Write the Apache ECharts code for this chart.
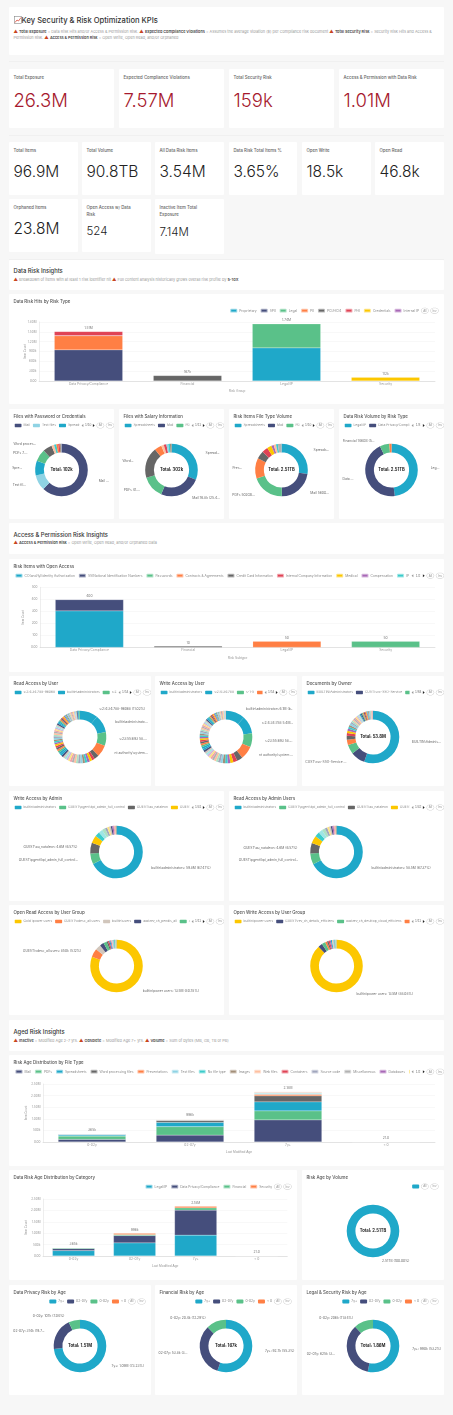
<!DOCTYPE html>
<html lang="en">
<head>
<meta charset="utf-8" />
<title>Key Security & Risk Optimization KPIs</title>
<script src="https://cdn.jsdelivr.net/npm/echarts@6/dist/echarts.min.js"></script>
<style>
  html, body { margin: 0; padding: 0; background: #f7f7f7; }
  body { position: relative; width: 453px; height: 1415px; overflow: hidden; font-family: Inter, "Noto Sans", sans-serif; color: #333; }
  .card { position: absolute; background: #fff; border-radius: 1px; box-sizing: border-box; }
  .rule { position: absolute; left: 9px; width: 435px; height: 1px; background: #f0f0f0; }
  .kt { position: absolute; left: 4.5px; top: 5px; right: 14px; font-size: 4.3px; line-height: 7px; font-weight: 500; color: #666; }
  .kv { position: absolute; left: 4.5px; font-weight: 300; white-space: nowrap; line-height: 1; }
  .red { color: #a6192e; font-size: 18.5px; top: 22px; }
  .big { color: #222; font-size: 15.5px; top: 21.5px; }
  .mid { color: #222; font-size: 11.5px; }
  .sec { position: absolute; left: 4.5px; font-weight: 500; white-space: nowrap; color: #333; }
  .note { position: absolute; left: 4.5px; right: 2px; font-size: 3.85px; line-height: 6.3px; color: #999; }
  .note b { color: #444; font-weight: 600; }
  .tri { color: #c8451f; font-size: 4.4px; }
  svg { vertical-align: -1px; }
</style>
</head>
<body>
<div class="card" style="left:9px;top:7px;width:435px;height:48px">
  <div class="sec" style="top:8.5px;font-size:7.6px;line-height:9px"><svg width="8" height="8" viewBox="0 0 8 8"><rect x=".4" y=".4" width="7.2" height="7.2" fill="#fff" stroke="#888" stroke-width=".6"/><path d="M1 6.5 3 4 4.5 5 7 1.5" fill="none" stroke="#d84a3a" stroke-width=".8"/></svg>Key Security &amp; Risk Optimization KPIs</div>
  <div class="note" style="top:21.5px"><span class="tri">▲</span> <b>Total Exposure</b> = Data Risk Hits and/or Access &amp; Permission Risk. <span class="tri">▲</span> <b>Expected Compliance Violations</b> = Assumes the average violation ($) per Compliance risk document <span class="tri">▲</span> <b>Total Security Risk</b> = Security Risk Hits and Access &amp; Permission Risk. <span class="tri">▲</span> <b>Access &amp; Permission Risk</b> = Open Write, Open Read, and/or Orphaned</div>
</div>
<div class="rule" style="top:61px"></div>
<div class="card" style="left:9px;top:69px;width:105px;height:59px"><div class="kt">Total Exposure</div><div class="kv red">26.3M</div></div>
<div class="card" style="left:119px;top:69px;width:105px;height:59px"><div class="kt">Expected Compliance Violations</div><div class="kv red">7.57M</div></div>
<div class="card" style="left:229px;top:69px;width:105px;height:59px"><div class="kt">Total Security Risk</div><div class="kv red">159k</div></div>
<div class="card" style="left:339px;top:69px;width:105px;height:59px"><div class="kt">Access &amp; Permission with Data Risk</div><div class="kv red">1.01M</div></div>
<div class="rule" style="top:135px"></div>
<div class="card" style="left:9px;top:142px;width:69px;height:53px"><div class="kt">Total Items</div><div class="kv big">96.9M</div></div>
<div class="card" style="left:82px;top:142px;width:69px;height:53px"><div class="kt">Total Volume</div><div class="kv big">90.8TB</div></div>
<div class="card" style="left:155px;top:142px;width:69px;height:53px"><div class="kt">All Data Risk Items</div><div class="kv big">3.54M</div></div>
<div class="card" style="left:229px;top:142px;width:68px;height:53px"><div class="kt">Data Risk Total Items %</div><div class="kv big">3.65%</div></div>
<div class="card" style="left:302px;top:142px;width:69px;height:53px"><div class="kt">Open Write</div><div class="kv big">18.5k</div></div>
<div class="card" style="left:375px;top:142px;width:69px;height:53px"><div class="kt">Open Read</div><div class="kv big">46.8k</div></div>
<div class="card" style="left:9px;top:199px;width:69px;height:53px"><div class="kt">Orphaned Items</div><div class="kv big">23.8M</div></div>
<div class="card" style="left:82px;top:199px;width:69px;height:53px"><div class="kt">Open Access w/ Data Risk</div><div class="kv mid" style="top:27px">524</div></div>
<div class="card" style="left:155px;top:199px;width:69px;height:55px"><div class="kt">Inactive Item Total Exposure</div><div class="kv mid" style="top:28px">7.14M</div></div>
<div class="rule" style="top:259px"></div>

<div class="card" style="left:9px;top:260px;width:435px;height:30px">
  <div class="sec" style="top:7px;font-size:5.8px;line-height:7px">Data Risk Insights</div>
  <div class="note" style="top:16.5px"><span class="tri">▲</span> Breakdown of items with at least 1 risk identifier hit <span class="tri">▲</span> Full content analysis historically grows overall risk profile by <b>5-10X</b></div>
</div>
<div class="card" id="riskType" style="left:9px;top:294px;width:435px;height:110px"></div>
<div class="card" id="password" style="left:9px;top:409px;width:105px;height:110px"></div>
<div class="card" id="salary" style="left:119px;top:409px;width:105px;height:110px"></div>
<div class="card" id="fileVolume" style="left:229px;top:409px;width:105px;height:110px"></div>
<div class="card" id="riskVolume" style="left:339px;top:409px;width:105px;height:110px"></div>

<div class="card" style="left:9px;top:523px;width:435px;height:31px">
  <div class="sec" style="top:7.5px;font-size:5.8px;line-height:7px">Access &amp; Permission Risk Insights</div>
  <div class="note" style="top:17px"><span class="tri">▲</span> <b>Access &amp; Permission Risk</b> = Open Write, Open Read, and/or Orphaned Data</div>
</div>
<div class="card" id="openAccess" style="left:9px;top:559px;width:435px;height:113px"></div>
<div class="card" id="readUser" style="left:9px;top:676px;width:142px;height:110px"></div>
<div class="card" id="writeUser" style="left:155px;top:676px;width:142px;height:110px"></div>
<div class="card" id="owner" style="left:302px;top:676px;width:142px;height:110px"></div>
<div class="card" id="writeAdmin" style="left:9px;top:791px;width:215px;height:110px"></div>
<div class="card" id="readAdmin" style="left:229px;top:791px;width:215px;height:110px"></div>
<div class="card" id="openRead" style="left:9px;top:905px;width:215px;height:110px"></div>
<div class="card" id="openWrite" style="left:229px;top:905px;width:215px;height:110px"></div>

<div class="card" style="left:9px;top:1020px;width:435px;height:31px">
  <div class="sec" style="top:8px;font-size:5.8px;line-height:7px">Aged Risk Insights</div>
  <div class="note" style="top:17.5px"><span class="tri">▲</span> <b>Inactive</b> = Modified Age 2-7 yrs. <span class="tri">▲</span> <b>Obsolete</b> = Modified Age 7+ yrs. <span class="tri">▲</span> <b>Volume</b> = Sum of bytes (MB, GB, TB or PB)</div>
</div>
<div class="card" id="ageFile" style="left:9px;top:1055px;width:435px;height:111px"></div>
<div class="card" id="ageCategory" style="left:9px;top:1170px;width:288px;height:110px"></div>
<div class="card" id="ageVolume" style="left:302px;top:1170px;width:142px;height:110px"></div>
<div class="card" id="agePrivacy" style="left:9px;top:1285px;width:142px;height:110px"></div>
<div class="card" id="ageFinancial" style="left:155px;top:1285px;width:142px;height:110px"></div>
<div class="card" id="ageLegal" style="left:302px;top:1285px;width:142px;height:110px"></div>

<script>
// colours
var palette = ["#1FA8C9","#454E7C","#5AC189","#FF7F44","#666666","#E04355","#FCC700","#A868B7","#3CCCCB","#A38F79","#8FD3E4","#A1A6BD","#ACE1C4","#FEC0A1","#B2B2B2","#EFA1AA","#FDE380","#D3B3DA","#9EE5E5","#D1C6BC"];
var userPalette = ["#1FA8C9","#1FA8C9","#5AC189","#FF7F44","#666666","#E04355","#FCC700","#A868B7","#3CCCCB","#A38F79","#8FD3E4","#A1A6BD","#ACE1C4","#FEC0A1","#B2B2B2","#EFA1AA","#FDE380","#D3B3DA","#9EE5E5","#D1C6BC","#454E7C"];
var fileColors = ["#454E7C","#5AC189","#1FA8C9","#666666","#FF7F44","#8FD3E4","#3CCCCB","#A38F79","#FEC0A1","#E04355","#A1A6BD","#B2B2B2","#A868B7","#FCC700","#EFA1AA"];

// Data Risk Hits by Risk Type
var riskGroups = ["Data Privacy/Compliance","Financial","Legal/IP","Security"];
var riskTypeNames = ["Proprietary","SPII","Legal","PII","PCI/HCI4","PHI","Credentials","Internal IP"];
var riskTypeValues = [
  [null,null,1010000,null],
  [950000,null,null,null],
  [null,null,730000,null],
  [430000,null,null,null],
  [null,167000,null,null],
  [130000,null,null,null],
  [null,null,null,112000],
  [null,null,null,null]
];
var riskTypeTotals = ["1.51M","167k","1.74M","112k"];

// Files with Password or Credentials
var passwordNames = ["Mail","Text files","Spreadsheets","PDFs","Word processing files","Web files","No file type","Presentations","Containers","Images","Source code"];
var passwordValues = [62.1,9.6,9.0,7.5,5.6,1.6,1.4,1.2,0.9,0.7,0.4];
var passwordLabels = ["Mail 63.5k (62.1%)","Text files 9.8k (9.6%)","Spreadsheets 9.2k (9.0%)","PDFs 7.6k (7.5%)","Word processing files 5.7k"];
var passwordColors = ["#454E7C","#8FD3E4","#1FA8C9","#5AC189","#666666","#FEC0A1","#3CCCCB","#FF7F44","#E04355","#A38F79","#A1A6BD"];

// Files with Salary Information
var salaryNames = ["Spreadsheets","Mail","PDFs","Word processing files","Presentations","Web files","Containers","Text files","No file type","Images"];
var salaryValues = [31.0,25.44,13.8,19.0,4.4,1.6,1.6,1.2,1.0,0.96];
var salaryLabels = ["Spreadsheets 93.6k (31%)","Mail 76.8k (25.44%)","PDFs 41.7k (13.8%)","Word processing files 57.4k"];
var salaryColors = ["#1FA8C9","#454E7C","#5AC189","#666666","#FF7F44","#FEC0A1","#E04355","#8FD3E4","#3CCCCB","#A38F79"];

// Risk Items File Type Volume
var fileVolumeNames = ["Spreadsheets","Mail","PDFs","Presentations","Word processing files","Containers","Media","Databases","Web files","No file type","Miscellaneous"];
var fileVolumeValues = [27.5,22.3,20.0,12.5,5.0,3.6,2.8,1.5,1.4,1.2,2.2];
var fileVolumeLabels = ["Spreadsheets 690GB (27.5%)","Mail 560GB (22.3%)","PDFs 502GB (20%)","Presentations 314GB"];
var fileVolumeColors = ["#1FA8C9","#454E7C","#5AC189","#FF7F44","#666666","#E04355","#FCC700","#A868B7","#FEC0A1","#3CCCCB","#B2B2B2"];

// Data Risk Volume by Risk Type
var riskVolumeNames = ["Legal/IP","Data Privacy/Compliance","Financial","Security"];
var riskVolumeValues = [48.0,44.8,5.82,1.38];
var riskVolumeLabels = ["Legal/IP 1.2TB (48%)","Data Privacy/Compliance 1.12TB","Financial 146GB (5.82%)"];

// Risk Items with Open Access
var subtypeNames = ["CO(and/ly)Identity Authorization","SS(National Identification Numbers","Passwords","Contracts & Agreements","Credit Card Information","Internal Company Information","Medical","Compensation","IP Documents"];
var subtypeValues = [
  [303,null,null,null],
  [94,null,null,null],
  [null,null,null,50],
  [null,null,50,null],
  [null,10,null,null],
  [null,null,null,null],
  [3,null,null,null],
  [null,null,null,null],
  [null,null,null,null]
];
var subtypeTotals = ["400","10","50","50"];

// Read Access by User
var readUserNames = ["s:2:4:34:788-96068","builtin\\administrators","s:23:55:693:58.4M","nt authority\\system"];
var readUserValues = [11.02,10.8,8.3,7.2,2.9,1.7,1.6,1.5,1.5,1.4,1.4,1.4,1.3,1.3,1.3,1.3,1.2,1.2,1.2,1.2,1.2,1.2,1.1,1.1,1.1,1.1,1.1,1.1,1.0,1.0,1.0,1.0,1.0,1.0,1.0,0.9,0.9,0.9,0.9,0.9,0.9,0.9,0.8,0.8,0.8,0.8,0.8,0.8,0.8,0.7,0.7,0.7,0.7,0.7,0.7,0.7,0.6,0.6,0.6,0.6,0.6,0.6,0.5,0.5,0.5,0.5];
var readUserLabels = ["s:2:4:34:788-96068 (11.02%)","builtin\\administrators 5.6M","s:23:55:693 58.4M (8.3%)","nt authority\\system 4.9M"];

// Write Access by User
var writeUserNames = ["builtin\\administrators","s:2:4:34:788","s-1-5","nt authority\\system"];
var writeUserValues = [11.4,10.6,8.2,7.9,3.4,2.4,1.8,1.6,1.5,1.5,1.4,1.4,1.3,1.3,1.3,1.2,1.2,1.2,1.2,1.2,1.1,1.1,1.1,1.1,1.1,1.0,1.0,1.0,1.0,1.0,1.0,0.9,0.9,0.9,0.9,0.9,0.9,0.9,0.8,0.8,0.8,0.8,0.8,0.8,0.7,0.7,0.7,0.7,0.7,0.7,0.7,0.6,0.6,0.6,0.6,0.6,0.6,0.5,0.5,0.5,0.5,0.5];
var writeUserLabels = ["builtin\\administrators 6.1M (b..","s:2:4:34:788 5.4M (10.6%)","s:23:55:693 58.4M (8.2%)","nt authority\\system 4.5M"];

// Documents by Owner
var ownerNames = ["BUILTIN\\Administrators","CUST\\svc-SSO-Service","NT AUTHORITY\\SYSTEM","CUST\\sp_farm"];
var ownerValues = [54.0,8.6,5.6,3.2,2.4,1.6,1.4,1.3,1.2,1.1,1.1,1.0,1.0,0.9,0.9,0.8,0.8,0.8,0.7,0.7,0.7,0.7,0.6,0.6,0.6,0.6,0.5,0.5,0.5,0.5,0.5,0.4,0.4,0.4,0.4,0.4];
var ownerLabels = ["BUILTIN\\Administrators 29M","CUST\\svc-SSO-Service 4.6M"];

// Write Access by Admin
var writeAdminNames = ["builtin\\administrators","GUEST\\pgent\\kpi_admin_full_control","GUEST\\au_nataleon","GUEST\\ou_services","GUEST\\ou_support","GUEST\\ou_backup"];
var writeAdminValues = [67.47,6.6,6.57,4.7,3.0,2.4,2.0,1.4,1.2,1.1,0.9,0.8,0.7,0.6,0.5];
var writeAdminLabels = ["builtin\\administrators: 59.8M (67.47%)","GUEST\\pgent\\kpi_admin_full_control...","GUEST\\au_nataleon: 4.6M (6.57%)"];
var adminColors = ["#1FA8C9","#5AC189","#666666","#FCC700","#3CCCCB","#9EE5E5","#ACE1C4","#A1A6BD","#FDE380","#D1C6BC","#454E7C","#A868B7","#EFA1AA","#FEC0A1","#A38F79"];

// Read Access by Admin Users
var readAdminNames = ["builtin\\administrators","GUEST\\pgent\\kpi_admin_full_control","GUEST\\au_nataleon","GUEST\\ou_services","GUEST\\ou_support","GUEST\\ou_backup"];
var readAdminValues = [67.37,6.7,6.57,4.7,3.0,2.4,2.0,1.5,1.2,1.1,0.9,0.8,0.7,0.6,0.5];
var readAdminLabels = ["builtin\\administrators: 58.5M (67.37%)","GUEST\\pgent\\kpi_admin_full_control...","GUEST\\au_nataleon: 4.6M (6.57%)"];

// Open Read Access by User Group
var openReadNames = ["Gold \\power users","GUEST\\vdesc_all users","builtin\\users","aaa\\rev_ch_pendis_all","aaa\\rev_ch_pendis_ops","GUEST\\vdesc_ops"];
var openReadValues = [80.78,5.12,3.4,2.5,2.0,0.9,0.8,0.7,0.6,0.6,0.6,0.5,0.5,0.5,0.5];
var openReadLabels = ["builtin\\power users: 13.5M (80.78%)","GUEST\\vdesc_all users: 850k (5.12%)"];
var openReadColors = ["#FCC700","#FF7F44","#D1C6BC","#454E7C","#5AC189","#666666","#E04355","#1FA8C9","#A868B7","#FEC0A1","#8FD3E4","#A1A6BD","#3CCCCB","#ACE1C4","#B2B2B2"];

// Open Write Access by User Group
var openWriteNames = ["builtin\\power users","GUEST\\rev_ch_details_efficiens","aaa\\rev_ch_desktop_cloud_efficiens","aaa\\rev_ch_ops","GUEST\\rev_ch_ops"];
var openWriteValues = [88.08,2.6,2.2,1.2,0.9,0.8,0.7,0.7,0.6,0.5,0.5,0.5,0.4,0.3];
var openWriteLabels = ["builtin\\power users: 13.5M (88.08%)"];
var openWriteColors = ["#FCC700","#454E7C","#5AC189","#FF7F44","#666666","#E04355","#A868B7","#1FA8C9","#FEC0A1","#8FD3E4","#A1A6BD","#3CCCCB","#ACE1C4","#B2B2B2"];

// Risk Age Distribution by File Type
var ageGroups = ["0-02y","02-07y","7y+","< 0"];
var fileTypeNames = ["Mail","PDFs","Spreadsheets","Word processing files","Presentations","Text files","No file type","Images","Web files","Containers","Source code","Miscellaneous","Databases","Media"];
var fileTypeValues = [
  [115000,300000,950000,null],
  [144000,360000,390000,null],
  [55000,187000,390000,null],
  [30000,90000,260000,null],
  [8000,12000,60000,null],
  [3000,10000,40000,null],
  [3000,8000,30000,null],
  [2000,15000,20000,null],
  [2000,8000,30000,21],
  [1000,2000,5000,null],
  [1000,2000,3000,null],
  [1000,1000,1000,null],
  [null,1000,1000,null],
  [null,null,null,null]
];
var ageTotals = ["365k","996k","2.18M","21.0"];

// Data Risk Age Distribution by Category
var categoryNames = ["Legal/IP","Data Privacy/Compliance","Financial","Security"];
var categoryValues = [
  [235000,574000,918000,null],
  [90000,323000,1092000,21],
  [30000,44000,100000,null],
  [10000,55000,70000,null]
];

// Risk Age by Volume
var ageVolumeNames = [""];
var ageVolumeValues = [2.51];
var ageVolumeLabels = ["2.51TB (100.00%)"];

// Data Privacy / Financial / Legal & Security Risk by Age
var ageSliceNames = ["7y+","02-07y","0-02y","< 0"];
var agePrivacyValues = [73.23,19.73,7.04,0.0001];
var agePrivacyLabels = ["7y+: 1.09M (73.23%)","02-07y: 314k (19.73%)","0-02y: 107k (7.04%)"];
var ageFinancialValues = [55.3,32.4,12.29,0.0001];
var ageFinancialLabels = ["7y+: 92.7k (55.3%)","02-07y: 53.8k (32.4%)","0-02y: 20.4k (12.29%)"];
var ageLegalValues = [53.2,34.9,11.84,0.0001];
var ageLegalLabels = ["7y+: 990k (53.2%)","02-07y: 625k (34.9%)","0-02y: 206k (11.84%)"];

function titleOf(text) {
  return { text: text, left: 4.5, top: 5.5, padding: 0, textStyle: { fontSize: 4.4, fontWeight: 500, color: "#555", fontFamily: "Inter" } };
}

// superset style legend: scroll, pager, All / Inv buttons
function legendOf(names, o) {
  o = o || {};
  var legend = {
    type: "scroll",
    data: names,
    top: 13.8,
    right: 5.5,
    icon: "roundRect",
    itemWidth: 7,
    itemHeight: 3.8,
    itemGap: 3,
    padding: 0,
    textStyle: { fontSize: 3.3, color: "#888", fontFamily: "Inter", padding: [0, 0, 0, -3] },
    pageIconSize: 3,
    pageIconColor: "#222",
    pageIconInactiveColor: "#999",
    pageButtonItemGap: 1,
    pageButtonGap: 2,
    pageTextStyle: { fontSize: 3.3, color: "#777" },
    selector: [{ type: "all", title: "All" }, { type: "inverseAll", title: "Inv" }],
    selectorLabel: { fontSize: 3, color: "#999", padding: [0.9, 1.7], borderRadius: 3, borderWidth: 0.3, borderColor: "#aaa", backgroundColor: "#fff" },
    selectorItemGap: 2,
    selectorButtonGap: 2
  };
  if (o.left != null) legend.left = o.left;
  if (o.pages) legend.pageFormatter = o.pages;
  return legend;
}

function axisLabel(v) {
  if (v === 0) return "0.00";
  if (v >= 1e6) return (v / 1e6).toFixed(2) + "M";
  if (v >= 1e3) return v / 1e3 + "k";
  return String(v);
}

function drawBars(id, o) {
  var series = o.names.map(function (name, i) {
    return { name: name, type: "bar", stack: "a", barCategoryGap: "31%", data: o.values[i], color: o.colors[i], itemStyle: { borderColor: "rgba(255,255,255,0.55)", borderWidth: 0.3 } };
  });
  // zero height bar on top of each stack carries the total
  series.push({
    name: "total", type: "bar", stack: "a", data: o.cats.map(function () { return 0; }),
    label: {
      show: true, position: "top", distance: 2, fontSize: 3.3, color: "#777", fontFamily: "Inter",
      formatter: function (p) { return o.totals[p.dataIndex]; }
    }
  });
  echarts.init(document.getElementById(id)).setOption({
    animation: false,
    title: titleOf(o.title),
    legend: legendOf(o.names, o.legend),
    grid: o.grid,
    xAxis: {
      type: "category", data: o.cats, name: o.xName, nameLocation: "middle", nameGap: 9, nameMoveOverlap: false,
      nameTextStyle: { fontSize: 3.3, color: "#999" },
      axisLine: { lineStyle: { color: "#ccc", width: 0.5 } },
      axisTick: { length: 1, lineStyle: { color: "#bbb", width: 0.4 } },
      axisLabel: { fontSize: 3.3, color: "#999", margin: 1.5, fontFamily: "Inter" }
    },
    yAxis: {
      type: "value", min: 0, max: o.max, interval: o.interval, name: "Item Count", nameLocation: "middle", nameGap: o.nameGap, nameMoveOverlap: false,
      nameTextStyle: { fontSize: 3, color: "#999" },
      axisLine: { show: true, lineStyle: { color: "#ddd", width: 0.5 } },
      axisTick: { show: false },
      splitLine: { lineStyle: { color: "#f0f0f0", width: 0.5 } },
      axisLabel: { fontSize: 3.1, color: "#999", margin: 2.5, formatter: axisLabel, fontFamily: "Inter" }
    },
    series: series
  });
}

function drawDonut(id, o) {
  var data = o.values.map(function (v, i) {
    var text = o.labels[i];
    return {
      name: o.names[i] != null ? o.names[i] : "user " + i, value: v,
      label: text ? { show: true, formatter: text } : { show: false }
    };
  });
  var graphic = [];
  if (o.total) {
    graphic.push({
      type: "text", left: "center", top: 58.7, silent: true,
      style: { text: o.total, fontSize: 4.2, fontWeight: 700, fill: "#222", fontFamily: "Inter" }
    });
  }
  echarts.init(document.getElementById(id)).setOption({
    animation: false,
    color: o.colors || palette,
    title: titleOf(o.title),
    legend: legendOf(o.legendNames || o.names, o.legend),
    graphic: graphic,
    series: [{
      type: "pie", radius: [17.6, 26.3], center: ["50%", 61], startAngle: 90,
      data: data,
      label: { fontSize: 3.3, color: "#666", fontFamily: "Inter" },
      labelLine: { show: false, length: 4, length2: 4 },
      emphasis: { disabled: true }
    }]
  });
}

drawBars("riskType", {
  title: "Data Risk Hits by Risk Type", cats: riskGroups, names: riskTypeNames, values: riskTypeValues, totals: riskTypeTotals,
  colors: ["#1FA8C9","#454E7C","#5AC189","#FF7F44","#666666","#E04355","#FCC700","#A868B7"],
  xName: "Risk Group", max: 1800000, interval: 300000, nameGap: 12,
  grid: { left: 30, right: 9, top: 28, bottom: 23 }
});
drawDonut("password", { title: "Files with Password or Credentials", names: passwordNames, values: passwordValues, labels: passwordLabels, colors: passwordColors, total: "Total: 102k", legend: { left: 5.5, pages: "1/10" } });
drawDonut("salary", { title: "Files with Salary Information", names: salaryNames, values: salaryValues, labels: salaryLabels, colors: salaryColors, total: "Total: 302k", legend: { left: 5.5, pages: "1/11" } });
drawDonut("fileVolume", { title: "Risk Items File Type Volume", names: fileVolumeNames, values: fileVolumeValues, labels: fileVolumeLabels, colors: fileVolumeColors, total: "Total: 2.51TB", legend: { left: 5.5, pages: "1/10" } });
drawDonut("riskVolume", { title: "Data Risk Volume by Risk Type", names: riskVolumeNames, values: riskVolumeValues, labels: riskVolumeLabels, total: "Total: 2.51TB", legend: { left: 5.5, pages: "1/3" } });

drawBars("openAccess", {
  title: "Risk Items with Open Access", cats: riskGroups, names: subtypeNames, values: subtypeValues, totals: subtypeTotals,
  colors: palette, xName: "Risk Subtype", max: 500, interval: 100, nameGap: 15,
  grid: { left: 31, right: 9, top: 28.3, bottom: 24.7 }, legend: { left: 5.5, pages: "1/2" }
});
drawDonut("readUser", { title: "Read Access by User", names: readUserNames, values: readUserValues, labels: readUserLabels, colors: userPalette, legend: { left: 5.5, pages: "1/54" } });
drawDonut("writeUser", { title: "Write Access by User", names: writeUserNames, values: writeUserValues, labels: writeUserLabels, colors: userPalette, legend: { left: 5.5, pages: "1/54" } });
drawDonut("owner", { title: "Documents by Owner", names: ownerNames, values: ownerValues, labels: ownerLabels, total: "Total: 53.8M", legend: { left: 5.5, pages: "1/84" } });
drawDonut("writeAdmin", { title: "Write Access by Admin", names: writeAdminNames, values: writeAdminValues, labels: writeAdminLabels, colors: adminColors, legend: { left: 5.5, pages: "1/41" } });
drawDonut("readAdmin", { title: "Read Access by Admin Users", names: readAdminNames, values: readAdminValues, labels: readAdminLabels, colors: adminColors, legend: { left: 5.5, pages: "1/42" } });
drawDonut("openRead", { title: "Open Read Access by User Group", names: openReadNames, values: openReadValues, labels: openReadLabels, colors: openReadColors, legend: { left: 5.5, pages: "1/11" } });
drawDonut("openWrite", { title: "Open Write Access by User Group", names: openWriteNames, values: openWriteValues, labels: openWriteLabels, colors: openWriteColors, legend: { left: 5.5, pages: "1/11" } });

drawBars("ageFile", {
  title: "Risk Age Distribution by File Type", cats: ageGroups, names: fileTypeNames, values: fileTypeValues, totals: ageTotals,
  colors: fileColors, xName: "Last Modified Age", max: 2500000, interval: 500000, nameGap: 15,
  grid: { left: 34, right: 9, top: 29, bottom: 24 }, legend: { left: 5.5, pages: "1/2" }
});
drawBars("ageCategory", {
  title: "Data Risk Age Distribution by Category", cats: ageGroups, names: categoryNames, values: categoryValues, totals: ageTotals,
  colors: ["#1FA8C9","#454E7C","#5AC189","#FF7F44"], xName: "Last Modified Age", max: 2500000, interval: 500000, nameGap: 15,
  grid: { left: 34, right: 9.7, top: 29, bottom: 24 }
});
drawDonut("ageVolume", { title: "Risk Age by Volume", names: ageVolumeNames, values: ageVolumeValues, labels: ageVolumeLabels, total: "Total: 2.51TB" });
drawDonut("agePrivacy", { title: "Data Privacy Risk by Age", names: ageSliceNames, values: agePrivacyValues, labels: agePrivacyLabels, colors: ["#1FA8C9","#454E7C","#5AC189","#FF7F44"], total: "Total: 1.51M" });
drawDonut("ageFinancial", { title: "Financial Risk by Age", names: ageSliceNames, values: ageFinancialValues, labels: ageFinancialLabels, colors: ["#1FA8C9","#454E7C","#5AC189","#FF7F44"], total: "Total: 167k" });
drawDonut("ageLegal", { title: "Legal & Security Risk by Age", names: ageSliceNames, values: ageLegalValues, labels: ageLegalLabels, colors: ["#1FA8C9","#454E7C","#5AC189","#FF7F44"], total: "Total: 1.86M" });
</script>
</body>
</html>
